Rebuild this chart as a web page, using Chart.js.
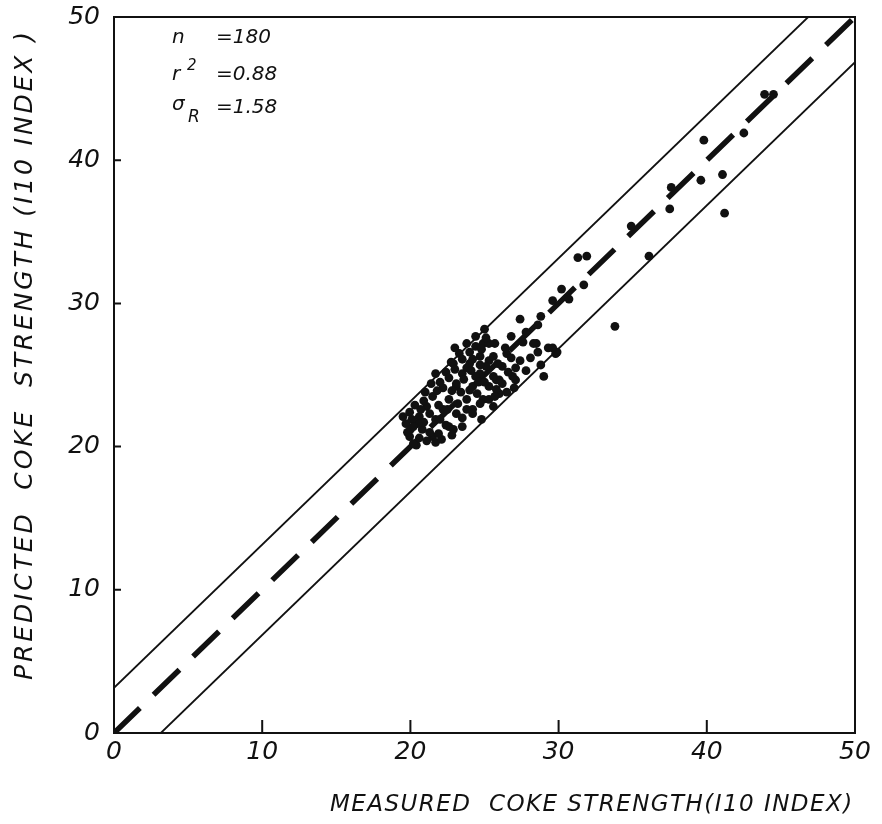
<!DOCTYPE html>
<html><head><meta charset="utf-8">
<script src="https://cdn.jsdelivr.net/npm/chart.js@4/dist/chart.umd.min.js"></script>
<style>html,body{margin:0;padding:0;background:#fff;}#wrap{width:882px;height:824px;}</style>
</head><body><div id="wrap"><canvas id="c" width="882" height="824"></canvas></div>
<script>
// ---- data ----
const measured = [
 43.9,44.5,42.5,39.8,41.06,39.6,37.6,37.5,41.2,36.1,34.9,31.3,31.9,31.7,30.2,29.6,30.7,33.8,29.8,
 27.4,28.8,28.6,25.0,26.8,27.8,27.6,28.5,29.3,29.9,28.6,28.8,29.0,28.1,27.4,26.5,25.7,24.9,24.4,26.2,25.3,27.1,26.0,24.7,
 27.0,24.8,24.4,25.8,26.0,24.9,25.6,24.2,
 22.2,23.1,24.0,21.5,22.6,23.8,21.1,22.2,23.1,24.2,19.95,20.6,21.7,22.6,19.7,20.8,19.95,21.5,20.4,21.7,23.5,
 23.8,24.4,25.3,23.3,24.7,25.6,22.9,24.0,25.1,22.4,23.5,25.6,21.7,22.0,23.1,24.2,25.3,
 29.6,28.3,22.75,20.2,19.5,22.1,21.3,22.4,22.9,23.8,24.7,25.3,25.8,26.2,26.9,24.7,23.8,
 21.0,20.3,20.9,23.4,24.6,23.0,24.0,25.9,26.6,22.8,20.0,20.5,
 20.1,20.7,21.3,21.9,20.6,21.1,22.0,22.5,23.2,23.6,22.6,23.0,24.1,24.8,25.1,24.2,23.5,
 21.4,20.9,21.8,25.7,26.5,26.4,27.1,27.8,26.8,25.0,24.5,23.5,22.8,21.9,20.2,19.8
];
const predicted = [
 44.6,44.6,41.9,41.4,39.0,38.6,38.1,36.6,36.3,33.3,35.4,33.2,33.3,31.3,31.0,30.2,30.3,28.4,26.5,
 28.9,29.1,28.5,28.2,27.7,28.0,27.3,27.2,26.9,26.6,26.6,25.7,24.9,26.2,26.0,26.5,27.2,27.2,27.7,25.6,26.0,24.65,24.65,25.1,
 24.1,21.9,24.9,24.65,23.7,23.3,22.8,22.6,
 24.1,24.2,23.95,23.5,23.3,23.3,22.8,22.6,22.3,22.3,22.4,22.1,21.9,21.4,21.6,21.2,20.7,20.7,20.1,20.3,21.4,
 27.2,27.0,27.2,26.5,26.3,26.3,25.8,25.8,25.6,25.2,25.1,24.9,25.1,24.5,24.4,24.2,24.2,
 26.9,27.2,25.9,20.2,22.1,20.5,21.0,21.5,21.2,22.6,23.0,23.3,24.0,24.4,24.9,25.7,25.5,
 23.8,22.9,21.7,23.8,24.5,26.9,26.6,25.8,25.2,23.9,21.2,21.6,
 21.9,22.6,22.3,22.9,20.6,20.4,21.9,22.6,23.0,24.7,24.8,25.4,25.3,26.8,27.6,26.1,26.1,
 24.4,23.2,23.9,23.5,23.8,26.9,25.5,25.3,26.2,24.5,23.7,22.0,20.8,20.9,21.4,21.0
];
const fitX = [0, 50];
const fitY = [0, 50];
const upperX = [0, 46.84];
const upperY = [3.16, 50];
const lowerX = [3.16, 50];
const lowerY = [0, 46.84];
const tickValues = [10, 20, 30, 40];
const xTitle = 'MEASURED  COKE STRENGTH(I10 INDEX)';
const yTitle = 'PREDICTED  COKE  STRENGTH (I10 INDEX )';
const statN = '=180', statR2 = '=0.88', statSigma = '=1.58';

const pts = (xs, ys) => xs.map((x, i) => ({x, y: ys[i]}));
const INK = '#111';
const FAM = '"DejaVu Sans", sans-serif';

const decor = {
  id: 'decor',
  afterDraw(chart) {
    const {ctx, chartArea: a, scales: {x, y}} = chart;
    ctx.save();
    ctx.strokeStyle = INK; ctx.lineWidth = 2;
    ctx.strokeRect(a.left, a.top, a.right - a.left, a.bottom - a.top);
    ctx.beginPath();
    tickValues.forEach(v => {
      const px = x.getPixelForValue(v);
      ctx.moveTo(px, a.bottom); ctx.lineTo(px, a.bottom - 13);
      const py = y.getPixelForValue(v);
      ctx.moveTo(a.left, py); ctx.lineTo(a.left + 7, py);
    });
    ctx.stroke();
    ctx.fillStyle = INK;
    ctx.textBaseline = 'alphabetic';
    ctx.textAlign = 'left';
    // x title
    ctx.font = 'italic 23px ' + FAM;
    ctx.letterSpacing = '0px';
    let base = ctx.measureText(xTitle).width;
    ctx.letterSpacing = ((522 - base) / (xTitle.length - 1)).toFixed(2) + 'px';
    ctx.fillText(xTitle, 330, 811);
    // y title
    ctx.save();
    ctx.translate(32, 680);
    ctx.rotate(-Math.PI / 2);
    ctx.font = 'italic 25px ' + FAM;
    ctx.letterSpacing = '0px';
    base = ctx.measureText(yTitle).width;
    ctx.letterSpacing = ((648 - base) / (yTitle.length - 1)).toFixed(2) + 'px';
    ctx.fillText(yTitle, 0, 0);
    ctx.restore();
    // stats
    ctx.letterSpacing = '0px';
    ctx.font = 'italic 20px ' + FAM;
    ctx.fillText('n', 172, 43);
    ctx.fillText(statN, 216, 43);
    ctx.fillText('r', 172, 80);
    ctx.font = 'italic 15px ' + FAM;
    ctx.fillText('2', 187, 70);
    ctx.font = 'italic 20px ' + FAM;
    ctx.fillText(statR2, 216, 80);
    ctx.fillText('σ', 172, 110);
    ctx.font = 'italic 17px ' + FAM;
    ctx.fillText('R', 188, 122);
    ctx.font = 'italic 20px ' + FAM;
    ctx.fillText(statSigma, 216, 113);
    ctx.restore();
  }
};

const tickFont = {family: FAM, size: 25, style: 'italic'};
new Chart(document.getElementById('c'), {
  type: 'scatter',
  data: {
    datasets: [
      {data: pts(measured, predicted), pointRadius: 4.4, pointBackgroundColor: INK, pointBorderWidth: 0, showLine: false},
      {type: 'line', data: pts(fitX, fitY), borderColor: INK, borderWidth: 5.5, borderDash: [36, 19], pointRadius: 0, fill: false},
      {type: 'line', data: pts(upperX, upperY), borderColor: INK, borderWidth: 1.8, pointRadius: 0, fill: false},
      {type: 'line', data: pts(lowerX, lowerY), borderColor: INK, borderWidth: 1.8, pointRadius: 0, fill: false}
    ]
  },
  options: {
    responsive: false, animation: false, devicePixelRatio: 1,
    layout: {padding: {left: 0, top: 17, right: 27, bottom: 0}},
    plugins: {legend: {display: false}, tooltip: {enabled: false}},
    scales: {
      x: {type: 'linear', min: 0, max: 50,
          ticks: {stepSize: 10, font: tickFont, color: INK, padding: 4, maxRotation: 0},
          grid: {display: false, drawTicks: false}, border: {display: false},
          afterFit: s => { s.height = 91; s.paddingLeft = 0; s.paddingRight = 0; }},
      y: {type: 'linear', min: 0, max: 50,
          ticks: {stepSize: 10, font: tickFont, color: INK, padding: 14},
          grid: {display: false, drawTicks: false}, border: {display: false},
          afterFit: s => { s.width = 114; s.paddingTop = 0; s.paddingBottom = 0; }}
    }
  },
  plugins: [decor]
});
</script></body></html>
